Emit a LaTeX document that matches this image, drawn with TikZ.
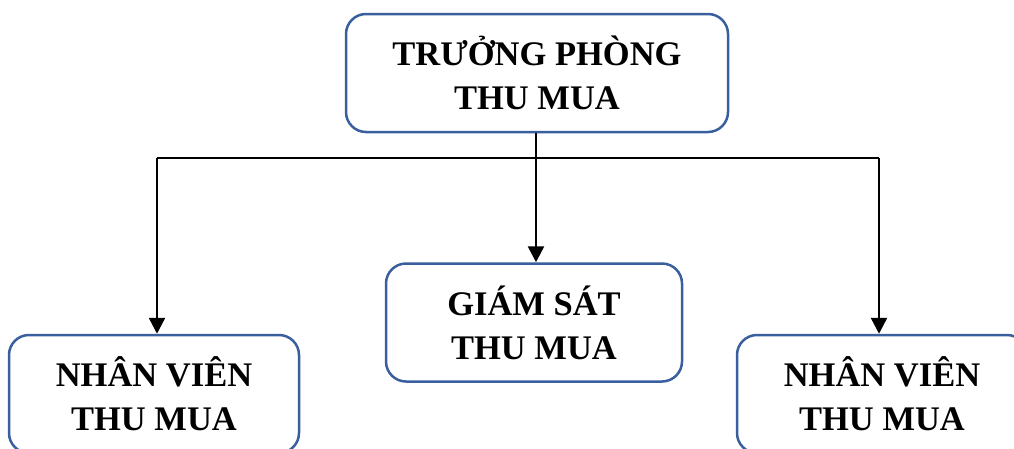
\documentclass[tikz,border=0pt]{standalone}
\usepackage{fontspec}
\setmainfont{Liberation Serif}
\usetikzlibrary{arrows.meta}
\definecolor{boxblue}{HTML}{3A5F9E}
\begin{document}
\begin{tikzpicture}[x=1pt,y=-1pt,
  orgbox/.style={draw=boxblue, line width=2.5pt, rounded corners=20pt, fill=white,
    minimum width=#1, minimum height=118pt, inner sep=0pt, align=center,
    font=\bfseries\fontsize{34.5}{44}\selectfont},
  conn/.style={line width=2.5pt, draw=black},
  arr/.style={conn, -{Triangle[length=16pt,width=16pt]}}]
\useasboundingbox (0,0) rectangle (1014,448);
\clip (0,0) rectangle (1014,448);
\node[orgbox=382pt] (top) at (537,73) {TRƯỞNG PHÒNG\\THU MUA};
\node[orgbox=296pt] (mid) at (534,322.5) {GIÁM SÁT\\THU MUA};
\node[orgbox=290pt] (left) at (154,394) {NHÂN VIÊN\\THU MUA};
\node[orgbox=290pt] (right) at (882,394) {NHÂN VIÊN\\THU MUA};
\coordinate (jn) at (536,158);
\coordinate (jl) at (157,158);
\coordinate (jr) at (879,158);
\draw[conn] (jn |- top.south) -- (jn);
\draw[conn] (jl) -- (jr);
\draw[arr] (jn) -- (jn |- mid.north);
\draw[arr] (jl) -- (jl |- left.north);
\draw[arr] (jr) -- (jr |- right.north);
\end{tikzpicture}
\end{document}
